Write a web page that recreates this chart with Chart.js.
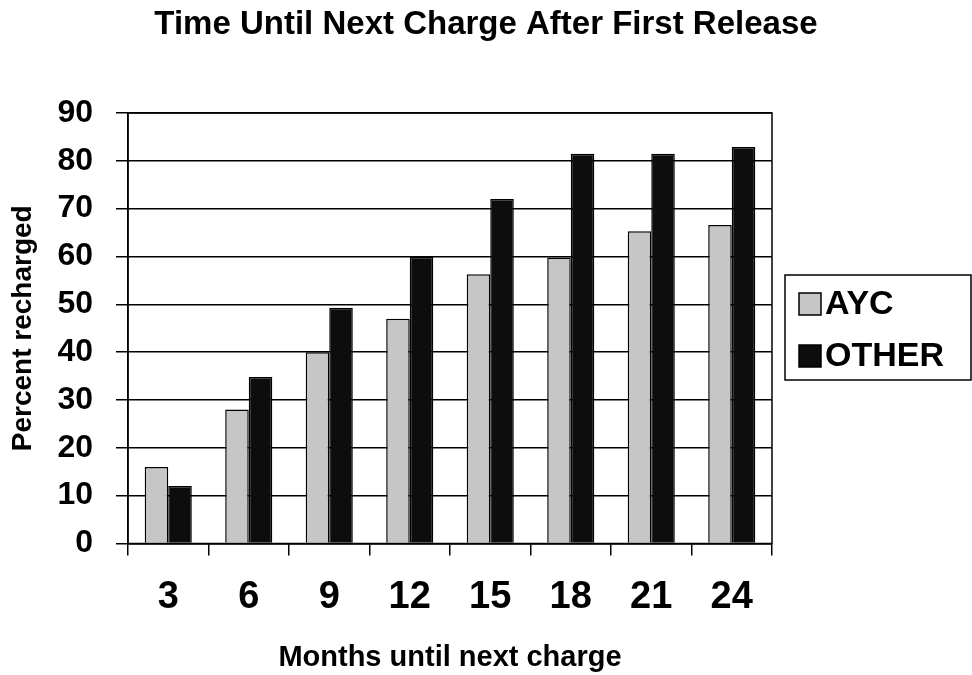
<!DOCTYPE html>
<html>
<head>
<meta charset="utf-8">
<title>Time Until Next Charge After First Release</title>
<script src="https://cdn.jsdelivr.net/npm/chart.js@4/dist/chart.umd.min.js"></script>
<style>
  html, body { margin: 0; padding: 0; background: #ffffff; }
  #wrap { width: 972px; height: 675px; position: relative; }
</style>
</head>
<body>
<div id="wrap"><canvas id="chart" width="972" height="675"></canvas></div>
<script>
// Months until the next charge
const months = ['3', '6', '9', '12', '15', '18', '21', '24'];
// Percent recharged by month
const aycValues = [16, 28, 40, 47, 56.3, 59.8, 65.3, 66.6];
const otherValues = [12, 34.8, 49.3, 59.9, 72, 81.5, 81.5, 82.9];
// Y-axis tick values
const yTicks = [0, 10, 20, 30, 40, 50, 60, 70, 80, 90];

const FONT = '"Liberation Sans", Arial, Helvetica, sans-serif';

// Frame around the plot area
const frame = {
  id: 'frame',
  afterDatasetsDraw(chart) {
    const { ctx, chartArea: a } = chart;
    ctx.save();
    ctx.strokeStyle = '#000';
    ctx.lineWidth = 1.5;
    ctx.strokeRect(a.left, a.top, a.right - a.left, a.bottom - a.top);
    ctx.restore();
  }
};

// Boxed legend to the right of the plot
const boxLegend = {
  id: 'boxLegend',
  afterDraw(chart) {
    const { ctx } = chart;
    const x0 = 785, y0 = 275, w = 186, h = 105;
    ctx.save();
    ctx.fillStyle = '#fff';
    ctx.fillRect(x0, y0, w, h);
    ctx.strokeStyle = '#000';
    ctx.lineWidth = 1.5;
    ctx.strokeRect(x0, y0, w, h);
    ctx.font = 'bold 34px ' + FONT;
    ctx.textBaseline = 'middle';
    ctx.textAlign = 'left';
    chart.data.datasets.forEach((ds, i) => {
      const cy = y0 + 29 + i * 52;
      ctx.fillStyle = ds.backgroundColor;
      ctx.fillRect(799, cy - 11, 22, 22);
      ctx.strokeStyle = '#000';
      ctx.lineWidth = 1.5;
      ctx.strokeRect(799, cy - 11, 22, 22);
      ctx.fillStyle = '#000';
      ctx.fillText(ds.label, 825, cy + 1);
    });
    ctx.restore();
  }
};

new Chart(document.getElementById('chart'), {
  type: 'bar',
  data: {
    labels: months,
    datasets: [
      {
        label: 'AYC',
        data: aycValues,
        backgroundColor: '#c6c6c6',
        borderColor: '#000',
        borderWidth: 1.5,
        borderSkipped: 'bottom'
      },
      {
        label: 'OTHER',
        data: otherValues,
        backgroundColor: '#0d0d0d',
        borderColor: '#000',
        borderWidth: 1.5,
        borderSkipped: 'bottom'
      }
    ]
  },
  options: {
    responsive: false,
    animation: false,
    devicePixelRatio: 1,
    layout: { padding: 0 },
    datasets: {
      bar: { categoryPercentage: 0.585, barPercentage: 1.0 }
    },
    plugins: {
      legend: { display: false },
      tooltip: { enabled: false },
      title: {
        display: true,
        text: 'Time Until Next Charge After First Release',
        color: '#000',
        font: { family: FONT, size: 33, weight: 'bold' },
        padding: { top: 5, bottom: 68.4 }
      }
    },
    scales: {
      x: {
        offset: true,
        afterFit(scale) { scale.height = 131.5; },
        grid: {
          offset: true,
          drawOnChartArea: false,
          drawTicks: true,
          tickLength: 12,
          color: '#000',
          lineWidth: 1.5
        },
        border: { display: true, color: '#000', width: 1.5 },
        ticks: {
          color: '#000',
          padding: 19,
          font: { family: FONT, size: 38, weight: 'bold' }
        },
        title: {
          display: true,
          text: 'Months until next charge',
          color: '#000',
          font: { family: FONT, size: 29, weight: 'bold' },
          padding: { top: 20, bottom: 0 }
        }
      },
      y: {
        min: 0,
        max: 90,
        afterFit(scale) { scale.width = 128; },
        afterBuildTicks(scale) { scale.ticks = yTicks.map(v => ({ value: v })); },
        grid: {
          drawTicks: true,
          tickLength: 12,
          color: '#000',
          lineWidth: 1.5
        },
        border: { display: true, color: '#000', width: 1.5 },
        ticks: {
          color: '#000',
          padding: 23,
          font: { family: FONT, size: 32, weight: 'bold' }
        },
        title: {
          display: true,
          text: 'Percent recharged',
          color: '#000',
          font: { family: FONT, size: 28, weight: 'bold' },
          padding: { top: 6, bottom: 0 }
        }
      },
      // Empty right-hand axis that reserves the space holding the legend
      legendSpace: {
        type: 'linear',
        position: 'right',
        afterFit(scale) { scale.width = 200; },
        grid: { display: false, drawTicks: false },
        border: { display: false },
        ticks: { display: false },
        title: { display: false }
      }
    }
  },
  plugins: [frame, boxLegend]
});
</script>
</body>
</html>
